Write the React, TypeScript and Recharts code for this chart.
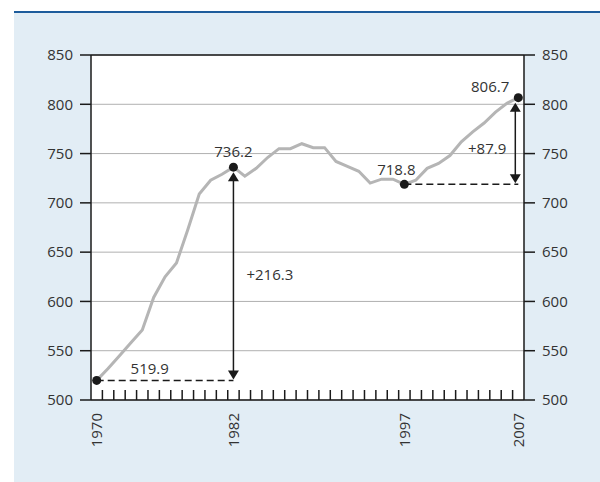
import {
  CartesianGrid,
  Line,
  LineChart,
  ReferenceDot,
  ReferenceLine,
  XAxis,
  YAxis,
} from 'recharts'

const years = [
  1970, 1971, 1972, 1973, 1974, 1975, 1976, 1977, 1978, 1979, 1980, 1981, 1982,
  1983, 1984, 1985, 1986, 1987, 1988, 1989, 1990, 1991, 1992, 1993, 1994, 1995,
  1996, 1997, 1998, 1999, 2000, 2001, 2002, 2003, 2004, 2005, 2006, 2007,
]
const values = [
  519.9, 532, 545, 558, 571, 604, 625, 639, 673, 709, 723, 729, 736.2,
  727, 735, 746, 755, 755, 760, 756, 756, 742, 737, 732, 720, 724,
  724, 718.8, 723, 735, 740, 748, 762, 772, 781, 792, 801, 806.7,
]
const yTicks = [500, 550, 600, 650, 700, 750, 800, 850]
const yearLabels = [1970, 1982, 1997, 2007]
const minorTicks = years.slice(0, -1).map((y) => y + 0.5)

// marked points and the two changes
const markYears = [1970, 1982, 1997, 2007]
const markValues = [519.9, 736.2, 718.8, 806.7]
const changeText = ['+216.3', '+87.9']

const data = years.map((year, i) => ({ year, value: values[i] }))

const INK = '#1a1a1a'
const TEXT = '#333'
const FONT = '"Open Sans", "Noto Sans", sans-serif'
const L = 'left'
const R = 'right'

function arrowShape(dx: number) {
  return (p: any) => {
    const x = p.x1 + dx
    const top = Math.min(p.y1, p.y2) + 5
    const bot = Math.max(p.y1, p.y2) - 1
    return (
      <g>
        <line x1={x} x2={x} y1={top + 4} y2={bot - 4} stroke={INK} strokeWidth={1.5} />
        <polygon points={`${x},${top} ${x - 5.5},${top + 9} ${x + 5.5},${top + 9}`} fill={INK} />
        <polygon points={`${x},${bot} ${x - 5.5},${bot - 9} ${x + 5.5},${bot - 9}`} fill={INK} />
      </g>
    )
  }
}

function textShape(text: string, anchor: string, dx: number, dy: number) {
  return (p: any) => (
    <text x={p.cx + dx} y={p.cy + dy} textAnchor={anchor} fill={TEXT} fontSize={15} fontFamily={FONT}>
      {text}
    </text>
  )
}

function YearTick(p: any) {
  return (
    <text
      transform={`translate(${p.x},${p.y}) rotate(-90)`}
      textAnchor="end"
      dy="0.35em"
      fill={TEXT}
      fontSize={15}
      fontFamily={FONT}
    >
      {p.payload.value}
    </text>
  )
}

export default function App() {
  const tickStyle = { fill: TEXT, fontSize: 15, fontFamily: FONT }
  const yAxisProps = {
    domain: [500, 850],
    allowDataOverflow: true,
    ticks: yTicks,
    interval: 0,
    width: 60,
    tickSize: 11,
    tickMargin: 7,
    tick: tickStyle,
    axisLine: { stroke: INK, strokeWidth: 1.5 },
    tickLine: { stroke: INK, strokeWidth: 1.5 },
  } as any
  return (
    <div style={{ position: 'absolute', left: 0, top: 0, width: 600, height: 482, background: '#fff' }}>
      <div
        style={{
          position: 'absolute',
          left: 14,
          top: 11,
          width: 586,
          height: 471,
          background: '#e2edf5',
          borderTop: '2px solid #1d5c9c',
        }}
      />
      <div style={{ position: 'absolute', left: 0, top: 0 }}>
        <LineChart width={600} height={482} data={data} margin={{ top: 55, right: 16, left: 31, bottom: 22 }}>
          <CartesianGrid yAxisId={L} vertical={false} stroke="#b0b0b0" fill="#fff" fillOpacity={1} />
          <XAxis
            dataKey="year"
            type="number"
            domain={[1969.5, 2007.5]}
            allowDataOverflow
            ticks={yearLabels}
            interval={0}
            height={60}
            tickLine={false}
            tickSize={0}
            tickMargin={13}
            axisLine={{ stroke: INK, strokeWidth: 1.5 }}
            tick={<YearTick />}
          />
          <XAxis
            xAxisId="minor"
            dataKey="year"
            type="number"
            domain={[1969.5, 2007.5]}
            allowDataOverflow
            ticks={minorTicks}
            interval={0}
            mirror
            axisLine={false}
            tickSize={10}
            tickLine={{ stroke: INK, strokeWidth: 1.5 }}
            tick={() => <g />}
          />
          <YAxis yAxisId={L} {...yAxisProps} />
          <YAxis yAxisId={R} orientation="right" {...yAxisProps} />
          <ReferenceLine yAxisId={R} y={850} stroke={INK} strokeWidth={1.5} />
          <Line
            yAxisId={L}
            type="linear"
            dataKey="value"
            stroke="#b5b5b5"
            strokeWidth={3}
            dot={false}
            activeDot={false}
            isAnimationActive={false}
          />
          <Line
            yAxisId={R}
            type="linear"
            dataKey="value"
            stroke="none"
            strokeWidth={0}
            dot={false}
            activeDot={false}
            legendType="none"
            isAnimationActive={false}
          />
          <ReferenceLine
            yAxisId={L}
            segment={[{ x: markYears[0], y: markValues[0] }, { x: markYears[1], y: markValues[0] }]}
            stroke={INK}
            strokeWidth={1.5}
            strokeDasharray="7 4"
          />
          <ReferenceLine
            yAxisId={L}
            segment={[{ x: markYears[2], y: markValues[2] }, { x: markYears[3], y: markValues[2] }]}
            stroke={INK}
            strokeWidth={1.5}
            strokeDasharray="7 4"
          />
          <ReferenceLine
            yAxisId={L}
            segment={[{ x: markYears[1], y: markValues[0] }, { x: markYears[1], y: markValues[1] }]}
            shape={arrowShape(0)}
          />
          <ReferenceLine
            yAxisId={L}
            segment={[{ x: markYears[3], y: markValues[2] }, { x: markYears[3], y: markValues[3] }]}
            shape={arrowShape(-3)}
          />
          {markYears.map((yr, i) => (
            <ReferenceDot key={yr} yAxisId={L} x={yr} y={markValues[i]} r={4.5} fill={INK} stroke="none" />
          ))}
          <ReferenceDot yAxisId={L} x={markYears[0]} y={markValues[0]} r={0} shape={textShape(String(markValues[0]), 'middle', 53, -6)} />
          <ReferenceDot yAxisId={L} x={markYears[1]} y={markValues[1]} r={0} shape={textShape(String(markValues[1]), 'middle', 0, -10)} />
          <ReferenceDot yAxisId={L} x={markYears[2]} y={markValues[2]} r={0} shape={textShape(String(markValues[2]), 'middle', -8, -9)} />
          <ReferenceDot yAxisId={L} x={markYears[3]} y={markValues[3]} r={0} shape={textShape(String(markValues[3]), 'end', -9, -6)} />
          <ReferenceDot
            yAxisId={L}
            x={markYears[1]}
            y={(markValues[0] + markValues[1]) / 2}
            r={0}
            shape={textShape(changeText[0], 'start', 13, 6)}
          />
          <ReferenceDot
            yAxisId={L}
            x={markYears[3]}
            y={(markValues[2] + markValues[3]) / 2}
            r={0}
            shape={textShape(changeText[1], 'end', -12, 13)}
          />
        </LineChart>
      </div>
    </div>
  )
}
